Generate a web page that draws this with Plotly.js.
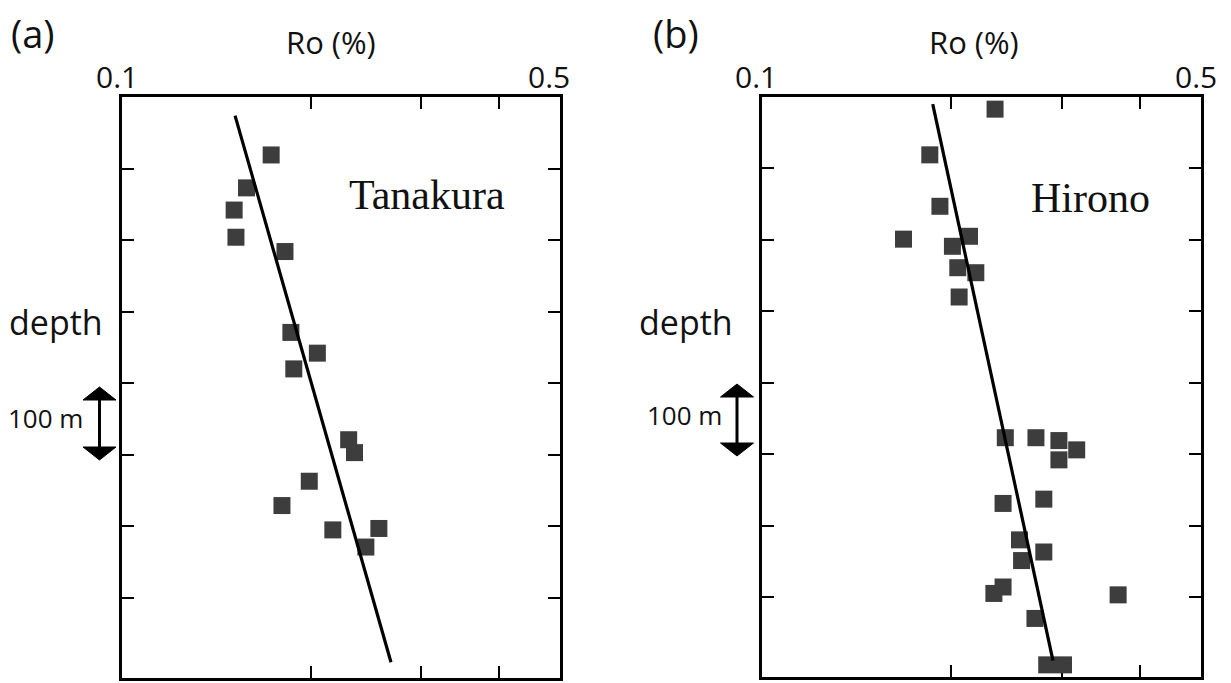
<!DOCTYPE html>
<html>
<head>
<meta charset="utf-8">
<script src="https://cdn.plot.ly/plotly-3.0.1.min.js"></script>
<style>html,body{margin:0;padding:0;background:#fff;}#chart{width:1231px;height:683px;}</style>
</head>
<body>
<div id="chart"></div>
<script>
// ---- data ----
// (a) Tanakura
const roA    = [0.173, 0.158, 0.151, 0.152, 0.182, 0.186, 0.205, 0.188, 0.230, 0.235, 0.199, 0.180, 0.217, 0.257, 0.245];
const depthA = [81, 127, 158, 196, 216, 329, 358, 380, 479, 497, 537, 571, 605, 603, 629];
const fitRoA    = [0.1515, 0.2687];
const fitDepthA = [26, 790];
// (b) Hirono
const roB    = [0.235, 0.185, 0.192, 0.168, 0.214, 0.201, 0.205, 0.219, 0.206, 0.244, 0.273, 0.297, 0.317, 0.297, 0.242, 0.281, 0.257, 0.281, 0.259, 0.242, 0.234, 0.369, 0.272, 0.284, 0.302];
const depthB = [17, 81, 153, 199, 195, 209, 239, 246, 280, 477, 477, 481, 494, 508, 569, 563, 620, 637, 649, 686, 695, 697, 730, 795, 795];
const fitRoB    = [0.187, 0.2906];
const fitDepthB = [10, 789];
// axis ticks
const roTicks = [0.1, 0.2, 0.3, 0.4, 0.5];
const depthTicks = [100, 200, 300, 400, 500, 600, 700];
const roEndLabels = ['0.1', '0.5'];

// ---- layout helpers (pixel -> paper) ----
const W = 1231, H = 683;
const px = x => x / W;
const py = y => 1 - y / H;

const markerStyle = {symbol: 'square', size: 17, color: '#3d3d3d', line: {width: 0}};
const lineStyle = {color: '#000', width: 3.2};

const traces = [
  {x: roA, y: depthA, xaxis: 'x', yaxis: 'y', mode: 'markers', type: 'scatter', marker: markerStyle, hoverinfo: 'skip', cliponaxis: false},
  {x: fitRoA, y: fitDepthA, xaxis: 'x', yaxis: 'y', mode: 'lines', type: 'scatter', line: lineStyle, hoverinfo: 'skip'},
  {x: roB, y: depthB, xaxis: 'x2', yaxis: 'y2', mode: 'markers', type: 'scatter', marker: markerStyle, hoverinfo: 'skip', cliponaxis: false},
  {x: fitRoB, y: fitDepthB, xaxis: 'x2', yaxis: 'y2', mode: 'lines', type: 'scatter', line: lineStyle, hoverinfo: 'skip'}
];

function xAxis(domain, anchor, layer) {
  return {
    type: 'log', domain: domain, anchor: anchor,
    range: [Math.log10(roTicks[0]), Math.log10(roTicks[roTicks.length - 1])],
    tickmode: 'array', tickvals: roTicks.slice(1, -1),
    showticklabels: false, ticks: 'inside', ticklen: 12, tickwidth: 2, tickcolor: '#000',
    showline: true, linewidth: 3, linecolor: '#000', mirror: 'ticks',
    showgrid: false, zeroline: false, layer: layer, fixedrange: true
  };
}
function yAxis(domain, anchor) {
  return {
    domain: domain, anchor: anchor, range: [812, 0],
    tickmode: 'array', tickvals: depthTicks,
    showticklabels: false, ticks: 'inside', ticklen: 12, tickwidth: 2, tickcolor: '#000',
    showline: true, linewidth: 3, linecolor: '#000', mirror: 'ticks',
    showgrid: false, zeroline: false, fixedrange: true
  };
}

const sans = 'Open Sans, DejaVu Sans, sans-serif';
const serif = 'Liberation Serif, Times New Roman, serif';
function txt(text, x, y, size, family) {
  return {text: text, xref: 'paper', yref: 'paper', x: px(x), y: py(y), xanchor: 'center', yanchor: 'middle',
          showarrow: false, font: {family: family || sans, size: size, color: '#111'}};
}

const annotations = [
  txt('(a)', 33, 33, 38), txt('(b)', 676, 33, 38),
  txt('Ro (%)', 331, 42, 31), txt('Ro (%)', 974, 42, 31),
  txt(roEndLabels[0], 117, 76, 30), txt(roEndLabels[1], 549, 76, 30),
  txt(roEndLabels[0], 756, 76, 30), txt(roEndLabels[1], 1196, 76, 30),
  txt('depth', 56, 322, 34), txt('depth', 686, 322, 34),
  txt('100 m', 45, 418, 26), txt('100 m', 684, 415, 26),
  txt('Tanakura', 427, 195, 42, serif), txt('Hirono', 1090, 198, 42, serif)
];

function arrow(x, top, bottom) {
  const hh = 13, hw = 16.5;
  return [
    {type: 'line', xref: 'paper', yref: 'paper', x0: px(x), x1: px(x), y0: py(top + hh), y1: py(bottom - hh), line: {color: '#000', width: 3}},
    {type: 'path', xref: 'paper', yref: 'paper', fillcolor: '#000', line: {color: '#000', width: 1},
     path: `M ${px(x)} ${py(top)} L ${px(x - hw)} ${py(top + hh)} L ${px(x + hw)} ${py(top + hh)} Z`},
    {type: 'path', xref: 'paper', yref: 'paper', fillcolor: '#000', line: {color: '#000', width: 1},
     path: `M ${px(x)} ${py(bottom)} L ${px(x - hw)} ${py(bottom - hh)} L ${px(x + hw)} ${py(bottom - hh)} Z`}
  ];
}

const layout = {
  width: W, height: H, margin: {l: 0, r: 0, t: 0, b: 0},
  paper_bgcolor: '#fff', plot_bgcolor: 'rgba(0,0,0,0)', showlegend: false,
  xaxis: xAxis([px(122), px(560)], 'y', 'above traces'),
  yaxis: yAxis([py(678), py(97)], 'x'),
  xaxis2: xAxis([px(762), px(1201)], 'y2', 'below traces'),
  yaxis2: yAxis([py(677), py(97)], 'x2'),
  annotations: annotations,
  shapes: [].concat(arrow(99.5, 387, 460), arrow(737, 384, 456))
};

Plotly.newPlot('chart', traces, layout, {displayModeBar: false, staticPlot: true});
</script>
</body>
</html>
